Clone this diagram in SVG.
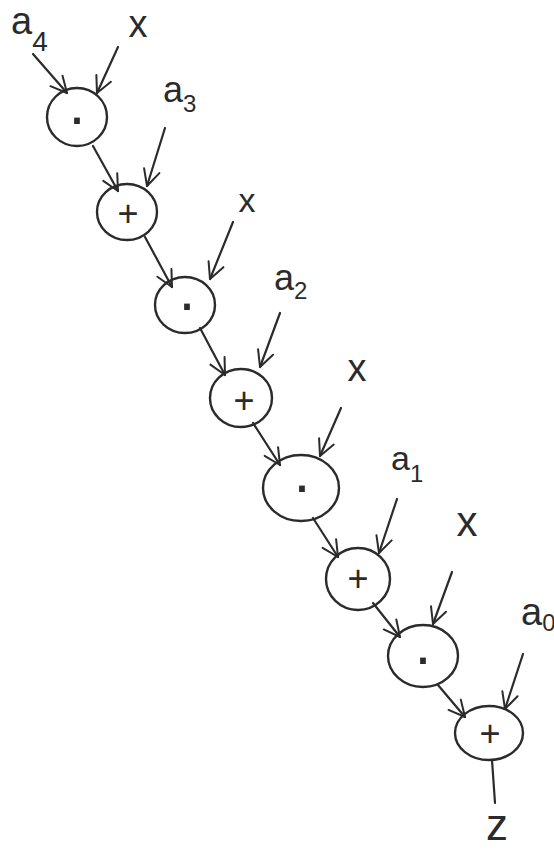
<svg xmlns="http://www.w3.org/2000/svg" width="554" height="850" viewBox="0 0 554 850">
  <style>
    .node { fill: none; stroke: #2b2b2b; stroke-width: 2.4; }
    .op { font-family: "Liberation Sans", Arial, sans-serif; fill: #2b2b2b; text-anchor: middle; dominant-baseline: central; }
    .lbl { font-family: "Liberation Sans", Arial, sans-serif; fill: #2b2b2b; }
    .edge { fill: none; stroke: #2b2b2b; stroke-width: 2.2; stroke-linecap: round; }
  </style>
  <defs>
    <marker id="arrow" viewBox="-18 -10 20 20" refX="0" refY="0" markerWidth="20" markerHeight="20" markerUnits="userSpaceOnUse" orient="auto">
      <path d="M-16,-8 L0,0 L-16,8" fill="none" stroke="#2b2b2b" stroke-width="2" stroke-linecap="round" stroke-linejoin="round"/>
    </marker>
  </defs>
  <rect width="554" height="850" fill="#ffffff"/>

  <!-- input labels -->
  <g id="labels">
    <text class="lbl" x="11" y="34" font-size="38">a<tspan font-size="28" dy="17">4</tspan></text>
    <text class="lbl" x="138" y="37" font-size="38" text-anchor="middle">x</text>
    <text class="lbl" x="163" y="102" font-size="36">a<tspan font-size="24" dy="10">3</tspan></text>
    <text class="lbl" x="247" y="212" font-size="34" text-anchor="middle">x</text>
    <text class="lbl" x="274" y="290" font-size="36">a<tspan font-size="24" dy="9">2</tspan></text>
    <text class="lbl" x="357" y="381" font-size="38" text-anchor="middle">x</text>
    <text class="lbl" x="391" y="470" font-size="34">a<tspan font-size="24" dy="12">1</tspan></text>
    <text class="lbl" x="467" y="536" font-size="42" text-anchor="middle">x</text>
    <text class="lbl" x="521" y="625" font-size="38">a<tspan font-size="24" dy="6">0</tspan></text>
    <text class="lbl" x="497" y="840" font-size="44" text-anchor="middle">z</text>
  </g>

  <!-- operation nodes -->
  <g id="n1"><ellipse class="node" cx="77" cy="117" rx="30" ry="29"/><text class="op" x="77" y="116" font-size="60">·</text></g>
  <g id="n2"><ellipse class="node" cx="127" cy="212" rx="30" ry="28"/><text class="op" x="128" y="213" font-size="36">+</text></g>
  <g id="n3"><ellipse class="node" cx="185" cy="305" rx="30" ry="28"/><text class="op" x="187" y="302" font-size="60">·</text></g>
  <g id="n4"><ellipse class="node" cx="241" cy="398" rx="31" ry="29"/><text class="op" x="244" y="400" font-size="36">+</text></g>
  <g id="n5"><ellipse class="node" cx="301" cy="488" rx="38" ry="33"/><text class="op" x="302" y="484" font-size="60">·</text></g>
  <g id="n6"><ellipse class="node" cx="358" cy="579" rx="32" ry="31"/><text class="op" x="358" y="578" font-size="36">+</text></g>
  <g id="n7"><ellipse class="node" cx="423" cy="656" rx="35" ry="31"/><text class="op" x="423" y="656" font-size="60">·</text></g>
  <g id="n8"><ellipse class="node" cx="489" cy="733" rx="34" ry="27"/><text class="op" x="490" y="733" font-size="36">+</text></g>

  <!-- connectors -->
  <g id="connectors">
    <line class="edge" x1="33" y1="54" x2="67" y2="93" marker-end="url(#arrow)"/>
    <line class="edge" x1="118" y1="47" x2="97" y2="93" marker-end="url(#arrow)"/>
    <line class="edge" x1="93" y1="146" x2="118" y2="191" marker-end="url(#arrow)"/>
    <line class="edge" x1="165" y1="128" x2="147" y2="186" marker-end="url(#arrow)"/>
    <line class="edge" x1="233" y1="222" x2="210" y2="279" marker-end="url(#arrow)"/>
    <line class="edge" x1="145" y1="237" x2="172" y2="287" marker-end="url(#arrow)"/>
    <line class="edge" x1="280" y1="313" x2="260" y2="367" marker-end="url(#arrow)"/>
    <line class="edge" x1="200" y1="328" x2="225" y2="375" marker-end="url(#arrow)"/>
    <line class="edge" x1="341" y1="408" x2="320" y2="456" marker-end="url(#arrow)"/>
    <line class="edge" x1="253" y1="423" x2="280" y2="465" marker-end="url(#arrow)"/>
    <line class="edge" x1="397" y1="499" x2="379" y2="553" marker-end="url(#arrow)"/>
    <line class="edge" x1="313" y1="518" x2="338" y2="557" marker-end="url(#arrow)"/>
    <line class="edge" x1="452" y1="572" x2="433" y2="624" marker-end="url(#arrow)"/>
    <line class="edge" x1="373" y1="603" x2="400" y2="637" marker-end="url(#arrow)"/>
    <line class="edge" x1="523" y1="654" x2="505" y2="709" marker-end="url(#arrow)"/>
    <line class="edge" x1="438" y1="685" x2="465" y2="717" marker-end="url(#arrow)"/>
    <line class="edge" x1="492" y1="760" x2="495" y2="803"/>
  </g>
</svg>
